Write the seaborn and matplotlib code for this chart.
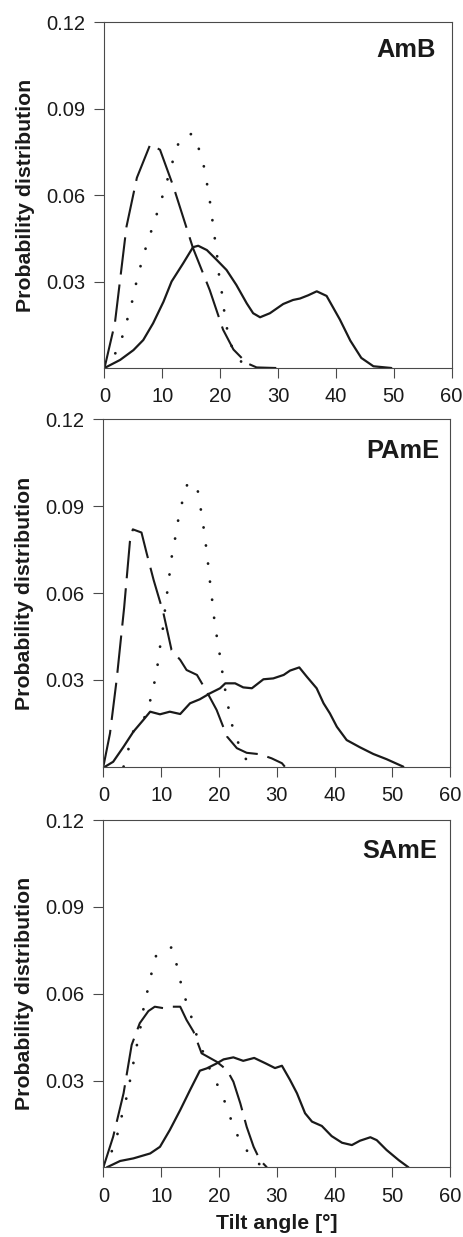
import matplotlib
matplotlib.use("Agg")
import matplotlib.pyplot as plt
import seaborn as sns

# ---- data: tilt angle [deg] vs probability distribution ----
panel_names = ["AmB", "PAmE", "SAmE"]

amb_solid_x = [0, 2.7, 5.0, 6.7, 8.4, 10.2, 11.6, 13.6, 15.3, 16.2, 17.7, 19.4, 21.1, 22.8, 24.6, 25.7, 26.9, 28.6, 30.9, 32.6, 33.8, 35.2, 36.7, 38.4, 40.7, 42.5, 44.4, 46.5, 49.6]
amb_solid_y = [0, 0.0028, 0.0062, 0.0097, 0.0155, 0.023, 0.030, 0.0363, 0.0419, 0.0424, 0.0409, 0.0375, 0.034, 0.0288, 0.0224, 0.019, 0.0176, 0.019, 0.0222, 0.0236, 0.0241, 0.0252, 0.0266, 0.025, 0.0168, 0.0095, 0.0035, 0.0006, 0]
amb_dash_x = [0, 1.8, 3.8, 5.6, 7.9, 9.6, 11.9, 15.3, 18.2, 20.5, 22.3, 24.6, 26.3, 29.7]
amb_dash_y = [0, 0.0156, 0.049, 0.066, 0.0775, 0.0757, 0.063, 0.0416, 0.027, 0.0133, 0.0064, 0.0017, 0.0002, 0]
amb_dot_x = [0, 2.2, 3.3, 4.1, 4.9, 5.6, 6.4, 7.3, 8.3, 9.3, 10.3, 12.1, 13.1, 15.2, 16.5, 17.3, 17.8, 18.3, 18.7, 19.1, 19.5, 19.8, 20.3, 20.7, 21.2, 22.0, 24.0, 25.7]
amb_dot_y = [0, 0.006, 0.0121, 0.018, 0.024, 0.0306, 0.0366, 0.0428, 0.0488, 0.055, 0.0613, 0.0738, 0.0798, 0.0813, 0.0751, 0.069, 0.063, 0.0568, 0.0506, 0.0445, 0.0384, 0.0323, 0.026, 0.0197, 0.0135, 0.0075, 0.001, 0]

pame_solid_x = [0.3, 1.7, 3.5, 5.2, 6.9, 8.1, 9.8, 11.5, 13.3, 15.0, 16.7, 18.5, 20.2, 21.1, 22.8, 24.2, 25.7, 27.7, 29.4, 31.2, 32.3, 33.9, 35.2, 36.9, 38.1, 39.2, 40.4, 42.1, 44.4, 46.7, 49.0, 51.9]
pame_solid_y = [0, 0.0017, 0.0069, 0.0121, 0.0161, 0.019, 0.0181, 0.019, 0.0182, 0.0219, 0.0233, 0.0254, 0.0271, 0.0288, 0.0288, 0.0274, 0.0271, 0.0302, 0.0305, 0.0317, 0.0332, 0.0343, 0.0311, 0.0271, 0.0219, 0.0184, 0.0138, 0.0092, 0.0067, 0.0044, 0.0026, 0]
pame_dash_x = [0, 1.15, 2.3, 3.6, 4.6, 5.1, 6.6, 7.5, 8.7, 10.4, 11.8, 13.3, 14.4, 16.2, 17.9, 19.6, 21.4, 23.1, 24.8, 27.1, 29.1, 30.9, 31.4]
pame_dash_y = [0, 0.0115, 0.030, 0.055, 0.0778, 0.082, 0.0809, 0.0737, 0.0645, 0.053, 0.0403, 0.0369, 0.0334, 0.0317, 0.0259, 0.0196, 0.0104, 0.0064, 0.0048, 0.0043, 0.0029, 0.0012, 0]
pame_dot_x = [3.5, 5.2, 7.5, 8.3, 9.0, 9.5, 9.9, 10.4, 10.7, 11.1, 11.9, 12.5, 13.0, 13.7, 14.6, 16.2, 16.7, 17.2, 17.6, 18.0, 18.3, 18.7, 19.0, 19.4, 19.9, 20.4, 20.8, 21.4, 21.9, 22.7, 24.5, 26.0]
pame_dot_y = [0, 0.0123, 0.018, 0.0244, 0.0305, 0.0366, 0.0428, 0.049, 0.055, 0.061, 0.0735, 0.0797, 0.0858, 0.0919, 0.0981, 0.097, 0.0909, 0.0848, 0.0787, 0.0726, 0.0662, 0.0601, 0.054, 0.0478, 0.0417, 0.0355, 0.0294, 0.0233, 0.0173, 0.0112, 0.003, 0]

same_solid_x = [0.6, 2.9, 5.2, 8.1, 9.8, 11.5, 13.3, 15.0, 16.7, 17.9, 19.6, 20.8, 22.5, 24.2, 26.1, 28.1, 29.7, 30.9, 32.3, 33.5, 34.9, 36.1, 37.8, 39.5, 41.3, 43.0, 44.4, 46.2, 47.3, 49.0, 51.1, 52.8]
same_solid_y = [0, 0.0022, 0.0031, 0.0048, 0.0071, 0.0129, 0.0198, 0.0267, 0.0334, 0.0342, 0.0359, 0.0373, 0.038, 0.0368, 0.0378, 0.0359, 0.0343, 0.0351, 0.0302, 0.0256, 0.0187, 0.0158, 0.0143, 0.0108, 0.0085, 0.0077, 0.0092, 0.0104, 0.0094, 0.006, 0.0025, 0]
same_dash_x = [0, 1.7, 3.5, 4.9, 6.3, 7.8, 8.9, 10.4, 11.5, 13.3, 14.4, 15.6, 17.0, 19.6, 21.4, 22.5, 23.7, 24.8, 26.0, 27.1, 28.3]
same_dash_y = [0, 0.0106, 0.0256, 0.0423, 0.0498, 0.054, 0.0555, 0.055, 0.0555, 0.0555, 0.0509, 0.0469, 0.0394, 0.0365, 0.0336, 0.0296, 0.0221, 0.014, 0.0071, 0.0025, 0]
same_dot_x = [0, 1.7, 2.6, 3.3, 4.1, 4.7, 5.3, 5.9, 6.5, 7.0, 7.7, 8.4, 9.2, 11.8, 12.7, 13.4, 14.3, 15.3, 16.2, 18.6, 20.2, 21.4, 22.4, 23.8, 26.1, 27.7]
same_dot_y = [0, 0.0065, 0.0126, 0.0187, 0.0248, 0.0309, 0.0371, 0.0432, 0.0492, 0.0555, 0.0615, 0.0676, 0.0737, 0.076, 0.0699, 0.0638, 0.0575, 0.0515, 0.0452, 0.033, 0.0267, 0.0207, 0.0146, 0.0085, 0.0025, 0]

x_ticks = [0, 10, 20, 30, 40, 50, 60]
y_ticks = [0.03, 0.06, 0.09, 0.12]
y_tick_labels = ["0.03", "0.06", "0.09", "0.12"]

panels = [
    (amb_solid_x, amb_solid_y, amb_dash_x, amb_dash_y, amb_dot_x, amb_dot_y),
    (pame_solid_x, pame_solid_y, pame_dash_x, pame_dash_y, pame_dot_x, pame_dot_y),
    (same_solid_x, same_solid_y, same_dash_x, same_dash_y, same_dot_x, same_dot_y),
]

# ---- styling ----
sns.set_theme(style="white")
plt.rcParams["font.family"] = ["Liberation Sans", "DejaVu Sans"]

fig = plt.figure(figsize=(4.63, 12.37), dpi=100)
ink = "#1a1a1a"
spine_col = "#4a4a4a"

# axes rectangles [left, bottom, width, height] in figure fraction
rects = [
    [0.2257, 0.7025, 0.7495, 0.2797],
    [0.2232, 0.3802, 0.7490, 0.2808],
    [0.2232, 0.0563, 0.7490, 0.2808],
]
label_pos = [(0.955, 0.898), (0.969, 0.888), (0.962, 0.891)]

for i, (rect, name, series) in enumerate(zip(rects, panel_names, panels)):
    ax = fig.add_axes(rect)
    sx, sy, dx, dy, ox, oy = series
    sns.lineplot(x=sx, y=sy, ax=ax, color=ink, lw=1.6, sort=False,
                 solid_joinstyle="round", solid_capstyle="round")
    sns.lineplot(x=dx, y=dy, ax=ax, color=ink, lw=1.5, sort=False,
                 linestyle=(0, (18.0, 4.8)), dash_capstyle="butt",
                 dash_joinstyle="round")
    sns.lineplot(x=ox, y=oy, ax=ax, color=ink, lw=2.0, sort=False,
                 linestyle=(0, (0.05, 6.5)), dash_capstyle="round")

    ax.set_xlim(0, 60)
    ax.set_ylim(0, 0.12)
    ax.set_xticks(x_ticks)
    ax.set_xticklabels([str(t) for t in x_ticks])
    ax.set_yticks(y_ticks)
    ax.set_yticklabels(y_tick_labels)
    ax.tick_params(axis="both", direction="out", length=7, width=0.8,
                   color=spine_col, labelsize=14.5, labelcolor=ink, pad=7,
                   left=True, bottom=True)
    for sp in ax.spines.values():
        sp.set_visible(True)
        sp.set_color(spine_col)
        sp.set_linewidth(0.8)
    ax.set_ylabel("Probability distribution", fontsize=15.3, fontweight="bold",
                  color=ink, labelpad=8)
    if i == 2:
        ax.set_xlabel("Tilt angle [°]", fontsize=15.3, fontweight="bold",
                      color=ink, labelpad=6)
    else:
        ax.set_xlabel("")
    ax.text(label_pos[i][0], label_pos[i][1], name, transform=ax.transAxes,
            ha="right", va="baseline", fontsize=18.3, fontweight="bold", color=ink)
    ax.grid(False)

fig.savefig("out.png", dpi=100, facecolor="white")
